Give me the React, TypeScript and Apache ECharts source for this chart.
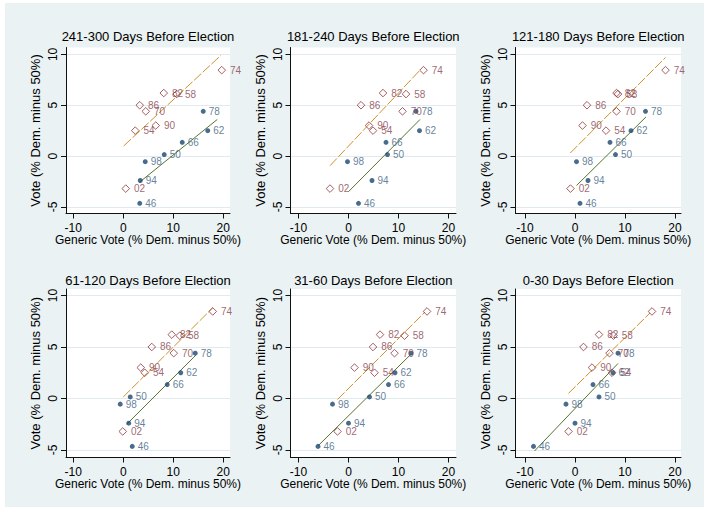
import { useEffect, useRef } from "react";
import * as echarts from "echarts";

const panelTitles = [
  "241-300 Days Before Election",
  "181-240 Days Before Election",
  "121-180 Days Before Election",
  "61-120 Days Before Election",
  "31-60 Days Before Election",
  "0-30 Days Before Election",
];

// Years with Democratic president (solid circles)
const circleYears = ["46", "50", "62", "66", "78", "94", "98"];
const circleVote = [-4.65, 0.15, 2.5, 1.35, 4.4, -2.4, -0.55];
// Years with Republican president (hollow diamonds)
const diamondYears = ["54", "58", "70", "74", "82", "86", "90", "02"];
const diamondVote = [2.5, 6.1, 4.4, 8.45, 6.2, 5.0, 3.0, -3.2];

// Generic vote per panel, in the order of circleYears
const circleGeneric = [
  [3.3, 8.2, 16.9, 11.8, 16.0, 3.4, 4.4],
  [2.0, 7.8, 14.2, 7.5, 13.5, 4.7, -0.2],
  [1.0, 8.1, 11.2, 7.0, 14.1, 2.6, 0.3],
  [1.8, 1.4, 11.5, 8.8, 14.4, 1.1, -0.6],
  [-6.1, 4.2, 9.3, 8.0, 12.5, 0.0, -3.2],
  [-8.3, 4.8, 7.6, 3.6, 8.6, 0.0, -1.8],
];
// Generic vote per panel, in the order of diamondYears
const diamondGeneric = [
  [2.4, 10.7, 4.5, 19.7, 8.1, 3.3, 6.5, 0.5],
  [4.9, 11.5, 10.8, 15.0, 6.9, 2.5, 4.1, -3.7],
  [6.2, 8.6, 8.3, 18.1, 8.3, 2.4, 1.5, -0.9],
  [4.3, 11.3, 10.1, 17.9, 9.7, 5.7, 3.5, -0.1],
  [5.2, 11.2, 9.2, 15.7, 6.3, 4.9, 1.2, -2.2],
  [7.4, 7.7, 6.9, 15.4, 4.8, 1.7, 3.4, -1.3],
];

// Fitted line end points per panel: [x1, y1, x2, y2]
const circleFit = [
  [3.3, -2.55, 18.8, 3.6],
  [0.0, -3.5, 14.3, 3.6],
  [0.3, -2.9, 14.2, 3.85],
  [0.7, -2.5, 14.5, 4.2],
  [-6.1, -4.6, 12.5, 4.3],
  [-8.1, -5.1, 8.6, 3.4],
];
const diamondFit = [
  [0.1, 1.0, 19.5, 9.9],
  [-3.7, -0.95, 14.2, 8.4],
  [-0.95, 0.3, 18.1, 9.7],
  [0.0, 0.15, 17.9, 8.8],
  [-2.2, -0.1, 15.3, 8.4],
  [-1.3, 0.5, 15.0, 8.3],
];

const xTicks = [-10, 0, 10, 20];
const yTicks = [-5, 0, 5, 10];
const xName = "Generic Vote (% Dem. minus 50%)";
const yName = "Vote (% Dem. minus 50%)";

const OX = 5;
const OY = 3;
const FONT = "'Liberation Sans', Arial, sans-serif";
const COLS = [
  { left: 66, width: 164, xmin: -11.45 },
  { left: 290.5, width: 165.5, xmin: -11.6 },
  { left: 515.5, width: 165.5, xmin: -11.9 },
];
const ROWS = [
  { top: 47.5, height: 166, ymin: -5.65, ymax: 10.68, titleY: 36 },
  { top: 289, height: 168.5, ymin: -5.73, ymax: 10.63, titleY: 280 },
];

const NAVY = "#1A476F";
const MAROON = "#90353B";
const GREEN = "#55752F";
const ORANGE = "#D0922A";

export default function App() {
  const ref = useRef<HTMLDivElement>(null);
  useEffect(() => {
    const chart = echarts.init(ref.current!, null, { renderer: "svg" });
    const grids: any[] = [];
    const xAxes: any[] = [];
    const yAxes: any[] = [];
    const series: any[] = [];
    const graphics: any[] = [];
    for (let p = 0; p < 6; p++) {
      const c = COLS[p % 3];
      const r = ROWS[Math.floor(p / 3)];
      grids.push({
        left: c.left - OX,
        top: r.top - OY,
        width: c.width,
        height: r.height,
        show: true,
        backgroundColor: "#ffffff",
        borderWidth: 0,
        containLabel: false,
      });
      xAxes.push({
        type: "value",
        gridIndex: p,
        min: c.xmin,
        max: c.xmin + c.width / 5,
        axisLine: { show: true, onZero: false, lineStyle: { color: "#111", width: 1 } },
        axisTick: { show: true, length: 5, customValues: xTicks, lineStyle: { color: "#111" } },
        axisLabel: { customValues: xTicks, fontSize: 12, fontFamily: FONT, color: "#000", margin: 8 },
        splitLine: { show: false },
        name: xName,
        nameLocation: "middle",
        nameGap: 18,
        nameTextStyle: { fontSize: 12, fontFamily: FONT, color: "#000" },
      });
      yAxes.push({
        type: "value",
        gridIndex: p,
        min: r.ymin,
        max: r.ymax,
        axisLine: { show: true, onZero: false, lineStyle: { color: "#111", width: 1 } },
        axisTick: { show: true, length: 5, customValues: yTicks, lineStyle: { color: "#111" } },
        axisLabel: { customValues: yTicks, fontSize: 12, fontFamily: FONT, color: "#000", rotate: 90, margin: 7 },
        splitLine: { show: true, lineStyle: { color: "#E1EAEE", width: 1 } },
        name: yName,
        nameLocation: "middle",
        nameRotate: 90,
        nameGap: 24,
        nameTextStyle: { fontSize: 13, fontFamily: FONT, color: "#000" },
      });
      const cf = circleFit[p];
      const df = diamondFit[p];
      series.push({
        type: "line",
        xAxisIndex: p,
        yAxisIndex: p,
        data: [[cf[0], cf[1]], [cf[2], cf[3]]],
        symbol: "none",
        silent: true,
        lineStyle: { color: GREEN, width: 1, type: "solid" },
        z: 3,
      });
      series.push({
        type: "line",
        xAxisIndex: p,
        yAxisIndex: p,
        data: [[df[0], df[1]], [df[2], df[3]]],
        symbol: "none",
        silent: true,
        lineStyle: { color: ORANGE, width: 1, type: [10, 2] },
        z: 3,
      });
      series.push({
        type: "scatter",
        xAxisIndex: p,
        yAxisIndex: p,
        symbol: "circle",
        symbolSize: 5,
        silent: true,
        itemStyle: { color: NAVY },
        data: circleGeneric[p].map((x, i) => ({ name: circleYears[i], value: [x, circleVote[i]] })),
        label: { show: true, position: "right", distance: 3, formatter: "{b}", fontSize: 10, fontFamily: FONT, color: "#3B5F80" },
        labelLayout: { hideOverlap: false },
        z: 4,
      });
      series.push({
        type: "scatter",
        xAxisIndex: p,
        yAxisIndex: p,
        symbol: "diamond",
        symbolSize: 7.6,
        silent: true,
        itemStyle: { color: "none", borderColor: MAROON, borderWidth: 1 },
        emphasis: { disabled: true },
        data: diamondGeneric[p].map((x, i) => ({ name: diamondYears[i], value: [x, diamondVote[i]] })),
        label: { show: true, position: "right", distance: 2, formatter: "{b}", fontSize: 10, fontFamily: FONT, color: "#86404C" },
        labelLayout: { hideOverlap: false },
        z: 10,
      });
      graphics.push({
        type: "text",
        x: c.left + c.width / 2 - OX,
        y: r.titleY - OY,
        style: { text: panelTitles[p], fontSize: 13, fontFamily: FONT, fill: "#000", align: "center", verticalAlign: "middle" },
      });
    }
    chart.setOption({
      animation: false,
      backgroundColor: "#EAF2F3",
      grid: grids,
      xAxis: xAxes,
      yAxis: yAxes,
      series,
      graphic: graphics,
    });
    return () => chart.dispose();
  }, []);
  return (
    <div style={{ position: "fixed", left: 0, top: 0, width: 709, height: 512, background: "#ffffff" }}>
      <div ref={ref} style={{ position: "absolute", left: OX, top: OY, width: 699, height: 504 }} />
    </div>
  );
}
